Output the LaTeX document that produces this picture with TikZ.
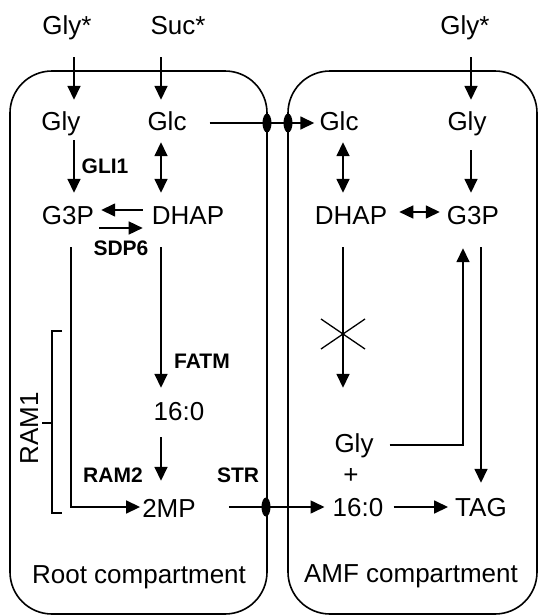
\documentclass[tikz,border=0pt]{standalone}
\usepackage{fontspec}
\setmainfont{Liberation Sans}
\usetikzlibrary{arrows.meta,shapes.geometric}
\begin{document}
\begin{tikzpicture}[x=1pt,y=-1pt,
  lbl/.style={anchor=base,inner sep=0pt,text height=18pt,text depth=5pt,font=\fontsize{26}{30}\selectfont},
  enz/.style={anchor=base,inner sep=0pt,font=\fontsize{21}{24}\selectfont\bfseries},
  comp/.style={draw,line width=1.6pt,rounded corners=42pt},
  arr/.style={line width=1.6pt,-{Triangle[length=14pt,width=13pt]}},
  darr/.style={line width=1.6pt,{Triangle[length=14pt,width=13pt]}-{Triangle[length=14pt,width=13pt]}},
  trans/.style={ellipse,fill=black,draw=none,minimum width=9pt,minimum height=19pt,inner sep=0pt}]
\useasboundingbox (0,0) rectangle (538,616);
% compartments
\draw[comp] (10,71) rectangle (267,614);
\draw[comp] (288,71) rectangle (537,614);
% column / row guides
\coordinate (c1) at (74,0);
\coordinate (c2) at (161,0);
\coordinate (c3) at (71,0);
\coordinate (c4) at (343,0);
\coordinate (c5) at (471,0);
\coordinate (c6) at (463,0);
\coordinate (c7) at (481,0);
\coordinate (r1) at (0,123);
\coordinate (r2) at (0,210);
\coordinate (r3) at (0,228);
\coordinate (r4) at (0,212);
\coordinate (r5) at (0,507);
\coordinate (r6) at (0,445);
% metabolites
\node[lbl] (glyS) at (67,34) {Gly*};
\node[lbl] (sucS) at (178,34) {Suc*};
\node[lbl] (glySR) at (465,34) {Gly*};
\node[lbl] (glyA) at (61,130) {Gly};
\node[lbl] (glcA) at (167,130) {Glc};
\node[lbl] (glcB) at (339,130) {Glc};
\node[lbl] (glyB) at (467,130) {Gly};
\node[lbl] (g3pA) at (68,224) {G3P};
\node[lbl] (dhapA) at (188,224) {DHAP};
\node[lbl] (dhapB) at (351,224) {DHAP};
\node[lbl] (g3pB) at (473,224) {G3P};
\node[lbl] (faA) at (179,420) {16:0};
\node[lbl] (mp) at (169,517) {2MP};
\node[lbl] (glyC) at (354,452) {Gly};
\node[lbl] (plus) at (351,483) {+};
\node[lbl] (faB) at (358,516) {16:0};
\node[lbl] (tag) at (481,516) {TAG};
\node[lbl] (rootc) at (139,583) {Root compartment};
\node[lbl] (amfc) at (411,582) {AMF compartment};
% enzymes
\node[enz] (gli) at (105,173) {GLI1};
\node[enz] (sdp) at (121,255) {SDP6};
\node[enz] (fatm) at (202,368) {FATM};
\node[enz] (ram2) at (113,482) {RAM2};
\node[enz] (str) at (238,482) {STR};
\node[anchor=base,inner sep=0pt,rotate=90,font=\fontsize{26}{30}\selectfont] (ram1) at (38,428) {RAM1};
% RAM1 bracket
\draw[line width=1.3pt] (62,331) -- (52,331) -- (52,513) -- (62,513);
\draw[line width=1.3pt] (52,423) -- (42,423);
% inflow arrows
\draw[arr,shorten <=18pt,shorten >=12pt] (glyS.south -| c1) -- (glyA.north -| c1);
\draw[arr,shorten <=18pt,shorten >=12pt] (sucS.south -| c2) -- (glcA.north -| c2);
\draw[arr,shorten <=18pt,shorten >=12pt] (glySR.south -| c5) -- (glyB.north -| c5);
% root compartment
\draw[arr,shorten <=5pt,shorten >=13pt] (glyA.south -| c1) -- (g3pA.north -| c1);
\draw[darr,shorten <=7pt,shorten >=13pt] (glcA.south -| c2) -- (dhapA.north -| c2);
\draw[arr,shorten <=9pt,shorten >=7pt] (dhapA.west |- r2) -- (g3pA.east |- r2);
\draw[arr,shorten <=5pt,shorten >=9pt] (g3pA.east |- r3) -- (dhapA.west |- r3);
\draw[arr,shorten <=18pt,shorten >=14pt] (dhapA.south -| c2) -- (faA.north -| c2);
\draw[arr,shorten <=12pt,shorten >=18pt] (faA.south -| c2) -- (mp.north -| c2);
\draw[arr,shorten <=18pt,shorten >=2pt] (g3pA.south -| c3) -- (c3 |- r5) -- (mp.west |- r5);
% transport
\draw[arr,shorten <=23pt,shorten >=5pt] (glcA.east |- r1) -- (glcB.west |- r1);
\draw[arr,shorten <=33pt,shorten >=8pt] (mp.east |- r5) -- (faB.west |- r5);
\node[trans] (t1) at (267,123) {};
\node[trans] (t2) at (288,123) {};
\node[trans] (t3) at (266,507) {};
% AMF compartment
\draw[darr,shorten <=7pt,shorten >=13pt] (glcB.south -| c4) -- (dhapB.north -| c4);
\draw[arr,shorten <=15pt,shorten >=13pt] (glyB.south -| c5) -- (g3pB.north -| c5);
\draw[darr,shorten <=12pt,shorten >=7pt] (dhapB.east |- r4) -- (g3pB.west |- r4);
\draw[arr,shorten <=18pt,shorten >=46pt] (dhapB.south -| c4) -- (glyC.north -| c4);
\coordinate (xc) at (343,334);
\draw[line width=1.3pt] ([shift={(-22,15)}]xc) -- ([shift={(22,-15)}]xc);
\draw[line width=1.3pt] ([shift={(-22,-15)}]xc) -- ([shift={(22,15)}]xc);
\draw[arr,shorten <=16pt,shorten >=19pt] (glyC.east |- r6) -- (c6 |- r6) -- (c6 |- g3pB.south);
\draw[arr,shorten <=18pt,shorten >=15pt] (g3pB.south -| c7) -- (tag.north -| c7);
\draw[arr,shorten <=10pt,shorten >=7pt] (faB.east |- r5) -- (tag.west |- r5);
\end{tikzpicture}
\end{document}
